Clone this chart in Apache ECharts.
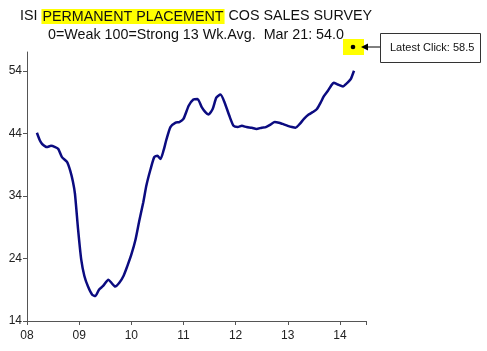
<!DOCTYPE html>
<html>
<head>
<meta charset="utf-8">
<script src="https://cdn.jsdelivr.net/npm/echarts@6/dist/echarts.min.js"></script>
<style>
  html, body { margin: 0; padding: 0; background: #fff; }
  #chart { width: 487px; height: 351px; }
</style>
</head>
<body>
<div id="chart"></div>
<script>
// decimal year of each reading
const dates = [
  2008.19, 2008.25, 2008.29, 2008.38, 2008.46, 2008.54, 2008.60, 2008.67, 2008.77, 2008.83,
  2008.88, 2008.92, 2008.98, 2009.04, 2009.10, 2009.17, 2009.25, 2009.31, 2009.38, 2009.46,
  2009.56, 2009.62, 2009.69, 2009.77, 2009.85, 2009.92, 2010.00, 2010.08, 2010.15, 2010.23,
  2010.29, 2010.37, 2010.44, 2010.50, 2010.56, 2010.62, 2010.67, 2010.75, 2010.85, 2010.92,
  2011.00, 2011.10, 2011.19, 2011.27, 2011.35, 2011.42, 2011.48, 2011.56, 2011.63, 2011.71,
  2011.79, 2011.88, 2011.96, 2012.04, 2012.12, 2012.21, 2012.31, 2012.40, 2012.50, 2012.58,
  2012.67, 2012.75, 2012.83, 2012.90, 2013.00, 2013.08, 2013.15, 2013.23, 2013.31, 2013.40,
  2013.48, 2013.56, 2013.63, 2013.69, 2013.77, 2013.83, 2013.88, 2013.96, 2014.06, 2014.12,
  2014.17, 2014.21, 2014.27,
]
// 13 wk avg index, 0 = weak, 100 = strong
const values = [
  44.1, 42.8, 42.3, 41.8, 42.0, 41.8, 41.5, 40.2, 39.4, 38.0,
  36.3, 34.3, 28.6, 23.8, 21.2, 19.5, 18.2, 18.0, 19.0, 19.6,
  20.6, 20.1, 19.5, 20.1, 21.2, 22.7, 24.6, 27.0, 29.9, 33.0,
  35.7, 38.3, 40.2, 40.4, 39.9, 41.3, 42.9, 45.0, 45.7, 45.8,
  46.3, 48.4, 49.4, 49.5, 48.2, 47.4, 47.0, 47.9, 49.7, 50.2,
  48.9, 46.8, 45.2, 45.0, 45.2, 45.0, 44.9, 44.7, 44.9, 45.0,
  45.4, 45.8, 45.7, 45.5, 45.2, 45.0, 44.9, 45.5, 46.3, 47.0,
  47.4, 47.9, 48.9, 49.9, 50.8, 51.6, 52.1, 51.8, 51.5, 51.9,
  52.3, 52.7, 54.0,
]
const yearLabels = ['08', '09', '10', '11', '12', '13', '14']
const titleText = 'ISI {hl|PERMANENT PLACEMENT} COS SALES SURVEY'
const subText = '0=Weak 100=Strong 13 Wk.Avg.  Mar 21: 54.0'
const latestClick = 'Latest Click: 58.5'

const font = 'Liberation Sans, Arial, sans-serif'
const chart = echarts.init(document.getElementById('chart'))

chart.setOption({
  animation: false,
  title: [
    {
      text: titleText, left: 15, top: 4,
      textStyle: {
        fontFamily: font, fontSize: 14.3, fontWeight: 'normal', color: '#111',
        rich: { hl: { fontFamily: font, fontSize: 14.3, color: '#111', backgroundColor: '#ffff00', padding: [1, 1, 0, 1] } },
      },
    },
    {
      text: subText, left: 43, top: 23,
      textStyle: { fontFamily: font, fontSize: 14.3, fontWeight: 'normal', color: '#111' },
    },
  ],
  grid: { left: 27, right: 121, top: 52, bottom: 30 },
  xAxis: {
    type: 'value', min: 2008, max: 2014.5, interval: 1,
    axisLine: { lineStyle: { color: '#555', width: 1 } },
    axisTick: { length: 4, lineStyle: { color: '#555' } },
    splitLine: { show: false },
    axisLabel: {
      fontFamily: font, fontSize: 12, color: '#222', margin: 9,
      formatter: (v) => (Number.isInteger(v) ? yearLabels[v - 2008] : ''),
    },
  },
  yAxis: {
    type: 'value', min: 14, max: 57, interval: 10,
    axisLine: { show: true, lineStyle: { color: '#555', width: 1 } },
    axisTick: { show: true, length: 4, lineStyle: { color: '#555' } },
    splitLine: { show: false },
    axisLabel: { fontFamily: font, fontSize: 12, color: '#222', margin: 5, showMaxLabel: false },
  },
  series: [
    {
      type: 'line',
      data: dates.map((d, i) => [d, values[i]]),
      smooth: 0.2,
      showSymbol: false,
      lineStyle: { color: '#0b0b80', width: 2.5 },
    },
  ],
  graphic: [
    { type: 'rect', shape: { x: 343, y: 39, width: 21, height: 16 }, style: { fill: '#ffff00' } },
    { type: 'circle', shape: { cx: 353, cy: 47, r: 2.3 }, style: { fill: '#000' } },
    { type: 'line', shape: { x1: 366, y1: 47, x2: 380, y2: 47 }, style: { stroke: '#000', lineWidth: 1 } },
    { type: 'polygon', shape: { points: [[361, 47], [368, 43.5], [368, 50.5]] }, style: { fill: '#000' } },
    { type: 'rect', shape: { x: 380.5, y: 33.5, width: 100, height: 29 }, style: { fill: '#fff', stroke: '#333', lineWidth: 1 } },
    {
      type: 'text', x: 390, y: 48,
      style: { text: latestClick, fontFamily: font, fontSize: 11, fill: '#111', verticalAlign: 'middle' },
    },
  ],
})
</script>
</body>
</html>
